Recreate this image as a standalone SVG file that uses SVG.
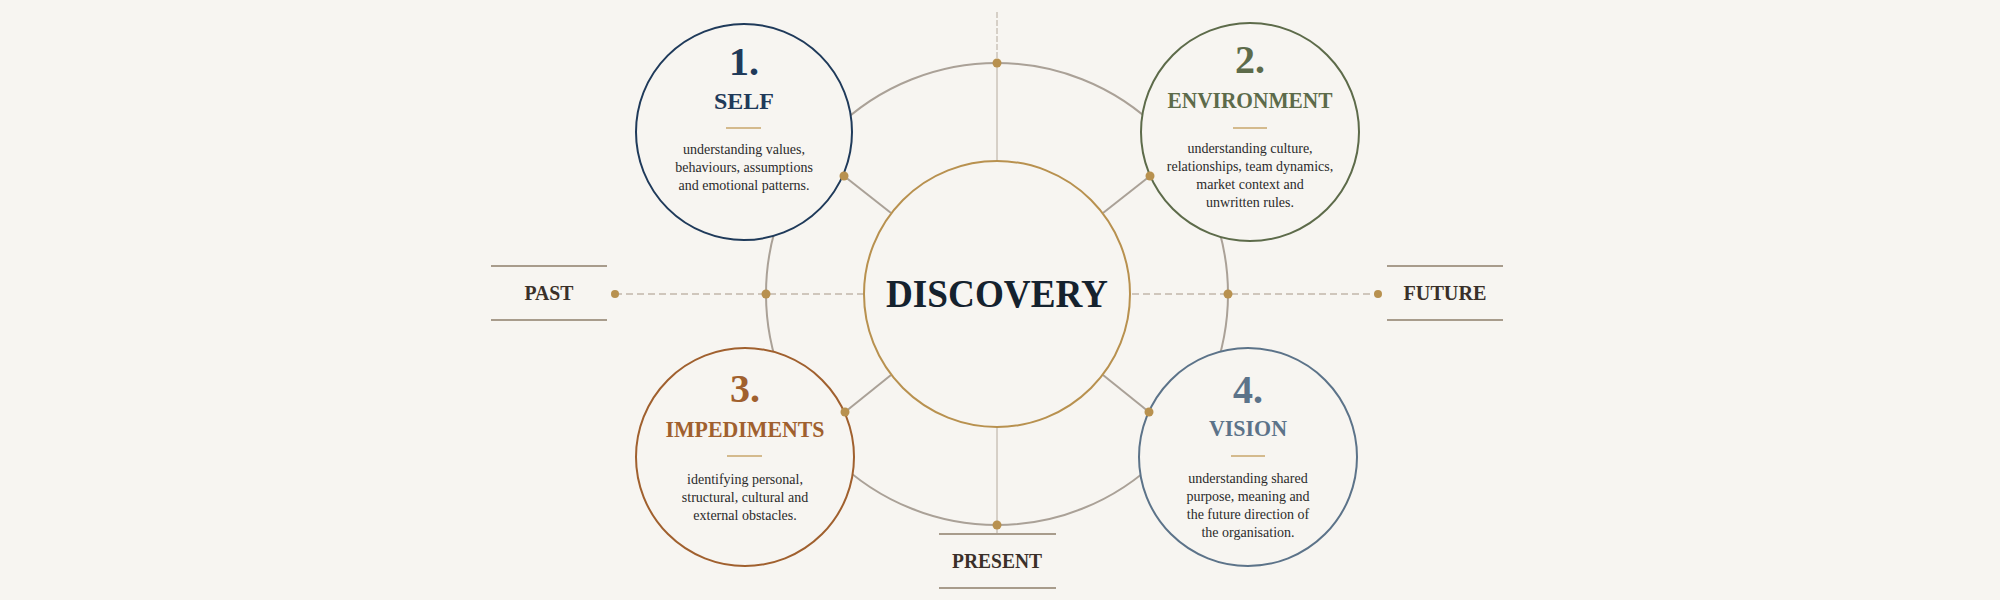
<svg xmlns="http://www.w3.org/2000/svg" width="2000" height="600" viewBox="0 0 2000 600">
  <style>
    .num { font-family: "Liberation Serif", "Times New Roman", serif; font-weight: bold; font-size: 40px; text-anchor: middle; }
    .title { font-family: "Liberation Serif", "Times New Roman", serif; font-weight: bold; font-size: 24px; text-anchor: middle; }
    .body { font-family: "Liberation Serif", "Times New Roman", serif; font-size: 14px; fill: #2b2b2b; text-anchor: middle; }
    .lbl { font-family: "Liberation Serif", "Times New Roman", serif; font-weight: bold; font-size: 21px; fill: #3a3029; text-anchor: middle; }
    .lblline { stroke: #a89c8c; stroke-width: 2; }
    .gold { stroke: #c9a66b; stroke-width: 1.6; }
    .sat { fill: #f7f5f1; stroke-width: 2; }
    .conn { stroke: #aaa197; stroke-width: 2; fill: none; }
    .dot { fill: #b8914f; }
  </style>
  <rect x="0" y="0" width="2000" height="600" fill="#f7f5f1"/>

  <g id="connectors">
    <line x1="615" y1="294" x2="1378" y2="294" stroke="#c2b7aa" stroke-width="1.3" stroke-dasharray="7 4"/>
    <line x1="997" y1="12" x2="997" y2="63" stroke="#b5aa9d" stroke-width="1" stroke-dasharray="6 2"/>
    <line x1="997" y1="63" x2="997" y2="534" stroke="#b5aa9d" stroke-width="1"/>
    <circle cx="997" cy="294" r="231" class="conn"/>
    <line x1="844" y1="176" x2="891" y2="213" class="conn"/>
    <line x1="1150" y1="176" x2="1103" y2="213" class="conn"/>
    <line x1="845" y1="412" x2="891" y2="375" class="conn"/>
    <line x1="1149" y1="412" x2="1103" y2="375" class="conn"/>
  </g>

  <g id="discovery">
    <circle cx="997" cy="294" r="133" fill="#f7f5f1" stroke="#b8914f" stroke-width="2"/>
    <text x="997" y="307" font-family="Liberation Serif, Times New Roman, serif" font-weight="bold" font-size="41" fill="#15222e" text-anchor="middle" textLength="222" lengthAdjust="spacingAndGlyphs">DISCOVERY</text>
  </g>

  <g id="self">
    <circle cx="744" cy="132" r="108" class="sat" stroke="#1f3a5a"/>
    <text x="744" y="75" class="num" fill="#1f3a5a">1.</text>
    <text x="744" y="109" class="title" fill="#1f3a5a" textLength="60" lengthAdjust="spacingAndGlyphs">SELF</text>
    <line x1="726" y1="128" x2="761" y2="128" class="gold"/>
    <text x="744" y="154" class="body">understanding values,</text>
    <text x="744" y="172" class="body">behaviours, assumptions</text>
    <text x="744" y="190" class="body">and emotional patterns.</text>
  </g>

  <g id="environment">
    <circle cx="1250" cy="132" r="109" class="sat" stroke="#5d6b4a"/>
    <text x="1250" y="73" class="num" fill="#5d6b4a">2.</text>
    <text x="1250" y="108" class="title" fill="#5d6b4a" textLength="165" lengthAdjust="spacingAndGlyphs">ENVIRONMENT</text>
    <line x1="1233" y1="128" x2="1267" y2="128" class="gold"/>
    <text x="1250" y="153" class="body">understanding culture,</text>
    <text x="1250" y="171" class="body">relationships, team dynamics,</text>
    <text x="1250" y="189" class="body">market context and</text>
    <text x="1250" y="207" class="body">unwritten rules.</text>
  </g>

  <g id="impediments">
    <circle cx="745" cy="457" r="109" class="sat" stroke="#a0602e"/>
    <text x="745" y="402" class="num" fill="#a0602e">3.</text>
    <text x="745" y="437" class="title" fill="#a0602e" textLength="159" lengthAdjust="spacingAndGlyphs">IMPEDIMENTS</text>
    <line x1="727" y1="456" x2="762" y2="456" class="gold"/>
    <text x="745" y="484" class="body">identifying personal,</text>
    <text x="745" y="502" class="body">structural, cultural and</text>
    <text x="745" y="520" class="body">external obstacles.</text>
  </g>

  <g id="vision">
    <circle cx="1248" cy="457" r="109" class="sat" stroke="#5c7389"/>
    <text x="1248" y="403" class="num" fill="#5c7389">4.</text>
    <text x="1248" y="436" class="title" fill="#5c7389" textLength="78" lengthAdjust="spacingAndGlyphs">VISION</text>
    <line x1="1231" y1="456" x2="1265" y2="456" class="gold"/>
    <text x="1248" y="483" class="body">understanding shared</text>
    <text x="1248" y="501" class="body">purpose, meaning and</text>
    <text x="1248" y="519" class="body">the future direction of</text>
    <text x="1248" y="537" class="body">the organisation.</text>
  </g>

  <g id="dots">
    <circle cx="997" cy="63" r="4.5" class="dot"/>
    <circle cx="997" cy="525" r="4.5" class="dot"/>
    <circle cx="766" cy="294" r="4.5" class="dot"/>
    <circle cx="1228" cy="294" r="4.5" class="dot"/>
    <circle cx="615" cy="294" r="4" class="dot"/>
    <circle cx="1378" cy="294" r="4" class="dot"/>
    <circle cx="844" cy="176" r="4.5" class="dot"/>
    <circle cx="1150" cy="176" r="4.5" class="dot"/>
    <circle cx="845" cy="412" r="4.5" class="dot"/>
    <circle cx="1149" cy="412" r="4.5" class="dot"/>
  </g>

  <g id="past">
    <line x1="491" y1="266" x2="607" y2="266" class="lblline"/>
    <line x1="491" y1="320" x2="607" y2="320" class="lblline"/>
    <text x="549" y="300" class="lbl" textLength="49" lengthAdjust="spacingAndGlyphs">PAST</text>
  </g>

  <g id="future">
    <line x1="1387" y1="266" x2="1503" y2="266" class="lblline"/>
    <line x1="1387" y1="320" x2="1503" y2="320" class="lblline"/>
    <text x="1445" y="300" class="lbl" textLength="83" lengthAdjust="spacingAndGlyphs">FUTURE</text>
  </g>

  <g id="present">
    <line x1="939" y1="534" x2="1056" y2="534" class="lblline"/>
    <line x1="939" y1="588" x2="1056" y2="588" class="lblline"/>
    <text x="997" y="568" class="lbl" textLength="90" lengthAdjust="spacingAndGlyphs">PRESENT</text>
  </g>
</svg>
